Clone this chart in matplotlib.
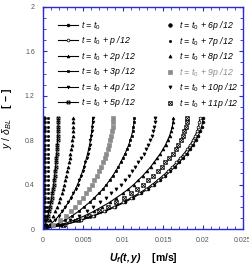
import numpy as np
import matplotlib
matplotlib.use('Agg')
import matplotlib.pyplot as plt
from matplotlib.path import Path
from matplotlib.ticker import MultipleLocator, FormatStrFormatter

plt.rcParams['font.family'] = ['Liberation Sans', 'DejaVu Sans']
plt.rcParams['mathtext.fontset'] = 'custom'
plt.rcParams['mathtext.rm'] = 'Liberation Sans'
plt.rcParams['mathtext.it'] = 'Liberation Sans:italic'
plt.rcParams['mathtext.bf'] = 'Liberation Sans:bold'
plt.rcParams['mathtext.bfit'] = 'Liberation Sans:italic:bold'
plt.rcParams['mathtext.default'] = 'it'

# y / delta_BL, shared by all profiles
eta = [0, 0.04, 0.08, 0.12, 0.16, 0.20, 0.24, 0.28, 0.32, 0.36, 0.40, 0.44, 0.48,
       0.52, 0.56, 0.60, 0.64, 0.68, 0.72, 0.76, 0.80, 0.84, 0.88, 0.92, 0.96, 1.0]

# U_f profiles in mm/s
u_0 = [0, 2.8, 4.8, 6.4, 7.8, 9.0, 10.2, 11.2, 12.2, 13.1, 13.9, 14.6, 15.3,
       15.9, 16.5, 17.0, 17.5, 18.0, 18.4, 18.8, 19.1, 19.4, 19.64, 19.82, 19.94, 20.0]
u_1 = [0, 2.74, 4.70, 6.27, 7.64, 8.82, 10.0, 10.98, 11.96, 12.84, 13.62, 14.31, 14.99,
       15.58, 16.17, 16.66, 17.15, 17.64, 18.03, 18.42, 18.72, 19.01, 19.25, 19.42, 19.54, 19.6]
u_2 = [0, 2.28, 3.91, 5.22, 6.36, 7.34, 8.31, 9.13, 9.94, 10.68, 11.33, 11.90, 12.47,
       12.96, 13.45, 13.86, 14.26, 14.67, 15.0, 15.32, 15.57, 15.81, 16.0, 16.15, 16.25, 16.3]
u_3 = [0, 1.60, 2.74, 3.65, 4.45, 5.13, 5.81, 6.38, 6.95, 7.47, 7.92, 8.32, 8.72,
       9.06, 9.41, 9.69, 9.98, 10.26, 10.49, 10.72, 10.89, 11.06, 11.19, 11.30, 11.37, 11.4]
u_4 = [0, 0.87, 1.49, 1.98, 2.42, 2.79, 3.16, 3.47, 3.78, 4.06, 4.31, 4.53, 4.74,
       4.93, 5.12, 5.27, 5.43, 5.58, 5.70, 5.83, 5.92, 6.01, 6.09, 6.14, 6.18, 6.2]
u_5 = [0, 0.27, 0.46, 0.61, 0.74, 0.86, 0.97, 1.06, 1.16, 1.24, 1.32, 1.39, 1.45,
       1.51, 1.57, 1.62, 1.66, 1.71, 1.75, 1.79, 1.81, 1.84, 1.87, 1.88, 1.89, 1.9]
u_6 = [0, 0.05, 0.07, 0.08, 0.09, 0.1, 0.1, 0.1, 0.1, 0.1, 0.1, 0.1, 0.1,
       0.1, 0.1, 0.1, 0.1, 0.1, 0.1, 0.1, 0.1, 0.1, 0.1, 0.1, 0.1, 0.1]
u_7 = [0, 0.3, 0.42, 0.48, 0.52, 0.54, 0.56, 0.57, 0.58, 0.58, 0.59, 0.59, 0.6,
       0.6, 0.6, 0.6, 0.6, 0.6, 0.6, 0.6, 0.6, 0.6, 0.6, 0.6, 0.6, 0.6]
u_8 = [0, 0.53, 0.91, 1.22, 1.48, 1.71, 1.94, 2.13, 2.32, 2.49, 2.64, 2.77, 2.91,
       3.02, 3.14, 3.23, 3.33, 3.42, 3.50, 3.57, 3.63, 3.69, 3.73, 3.77, 3.79, 3.8]
u_9 = [0, 1.23, 2.11, 2.82, 3.43, 3.96, 4.49, 4.93, 5.37, 5.76, 6.12, 6.42, 6.73,
       7.0, 7.26, 7.48, 7.70, 7.92, 8.10, 8.27, 8.40, 8.54, 8.64, 8.72, 8.77, 8.8]
u_10 = [0, 1.96, 3.36, 4.48, 5.46, 6.30, 7.14, 7.84, 8.54, 9.17, 9.73, 10.22, 10.71,
        11.13, 11.55, 11.90, 12.25, 12.60, 12.88, 13.16, 13.37, 13.58, 13.75, 13.87, 13.96, 14.0]
u_11 = [0, 2.52, 4.32, 5.76, 7.02, 8.10, 9.18, 10.08, 10.98, 11.79, 12.51, 13.14, 13.77,
        14.31, 14.85, 15.30, 15.75, 16.20, 16.56, 16.92, 17.19, 17.46, 17.68, 17.84, 17.95, 18.0]

phases = ['', ' + p /12', ' + 2p /12', ' + 3p /12', ' + 4p /12', ' + 5p /12',
          ' + 6p /12', ' + 7p /12', ' + 8p /12', ' + 9p /12', ' + 10p /12', ' + 11p /12']

# square with a cross
boxx = Path([(-1, -1), (1, -1), (1, 1), (-1, 1), (-1, -1), (-1, -1), (1, 1), (-1, 1), (1, -1)],
            [Path.MOVETO, Path.LINETO, Path.LINETO, Path.LINETO, Path.CLOSEPOLY,
             Path.MOVETO, Path.LINETO, Path.MOVETO, Path.LINETO])

blue = '#2a2ad2'
fig = plt.figure(figsize=(2.49, 2.66), dpi=100)
ax = fig.add_axes([0.173, 0.139, 0.803, 0.835])

profiles = [u_0, u_1, u_2, u_3, u_4, u_5, u_6, u_7, u_8, u_9, u_10, u_11]
line_style = [('o', 'k', 2.0), ('o', 'w', 2.0), ('^', 'k', 2.0),
              ('s', 'k', 2.0), ('v', 'k', 2.0), (boxx, 'none', 2.2)]
dot_style = [('o', 'k', 'k', 2.6), ('o', 'k', 'k', 1.6), ('^', 'k', 'k', 2.2),
             ('s', '#8c8c8c', '#8c8c8c', 2.8), ('v', 'k', 'k', 2.2), (boxx, 'none', 'k', 2.6)]

h_lines, h_dots = [], []
for i in range(6):
    m, fc, ms = line_style[i]
    h, = ax.plot(np.array(profiles[i]) / 1000, eta, '-', color='k', lw=0.8, marker=m,
                 ms=ms, mfc=fc, mec='k', mew=0.5,
                 label='t = t$_0$' + phases[i])
    h_lines.append(h)
for i in range(6):
    m, fc, ec, ms = dot_style[i]
    h, = ax.plot(np.array(profiles[i + 6]) / 1000, eta, ls='none', marker=m,
                 ms=ms, mfc=fc, mec=ec, mew=0.5,
                 label='t = t$_0$' + phases[i + 6])
    h_dots.append(h)

ax.set_xlim(0, 0.025)
ax.set_ylim(0, 2)
ax.xaxis.set_major_locator(MultipleLocator(0.005))
ax.xaxis.set_minor_locator(MultipleLocator(0.001))
ax.yaxis.set_major_locator(MultipleLocator(0.4))
ax.yaxis.set_minor_locator(MultipleLocator(0.1))
ax.xaxis.set_major_formatter(FormatStrFormatter('%g'))
ax.yaxis.set_major_formatter(FormatStrFormatter('%g'))
ax.tick_params(which='both', direction='in', top=True, right=True, color=blue,
               labelsize=5, labelcolor='#555555', pad=6)
ax.tick_params(which='major', length=3, width=0.8)
ax.tick_params(which='minor', length=2, width=0.6)
for s in ax.spines.values():
    s.set_color(blue)
    s.set_linewidth(1.0)

ax.set_xlabel(r'$\mathbfit{U_f(t,y)}$    $\mathbf{[m/s]}$', fontsize=7.5, labelpad=5)
ax.set_ylabel(r'$\mathit{y\ /\ \delta_{BL}}$    $\mathbf{[\,-\,]}$', fontsize=7.5, labelpad=8)

legprop = {'style': 'italic', 'size': 6.3}
leg1 = ax.legend(handles=h_lines, loc='upper left', bbox_to_anchor=(0.04, 0.975),
                 frameon=False, prop=legprop, handlelength=2.3, handletextpad=0.3,
                 labelspacing=0.28, borderaxespad=0.4)
ax.add_artist(leg1)
leg2 = ax.legend(handles=h_dots, loc='upper left', bbox_to_anchor=(0.58, 0.975),
                 frameon=False, prop=legprop, handlelength=1.0, handletextpad=0.5,
                 labelspacing=0.28, borderaxespad=0.4)
leg2.get_texts()[3].set_color('#8c8c8c')

fig.savefig('out.png', dpi=100)
